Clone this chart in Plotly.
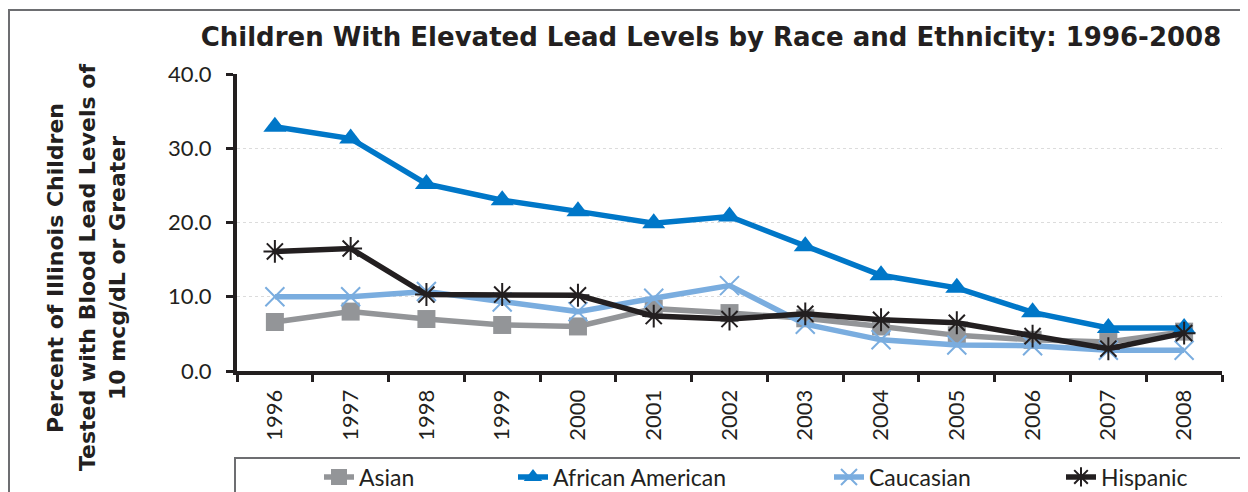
import plotly.graph_objects as go

years = ["1996", "1997", "1998", "1999", "2000", "2001", "2002",
         "2003", "2004", "2005", "2006", "2007", "2008"]
asian = [6.6, 8.0, 7.0, 6.2, 6.0, 8.4, 7.8, 7.1, 6.0, 4.8, 4.2, 3.9, 5.3]
african_american = [32.9, 31.3, 25.2, 23.0, 21.5, 19.9, 20.8, 16.8, 12.9, 11.2, 7.9, 5.8, 5.8]
caucasian = [10.0, 10.0, 10.7, 9.3, 8.0, 9.8, 11.5, 6.3, 4.2, 3.5, 3.4, 2.8, 2.8]
hispanic = [16.1, 16.5, 10.3, 10.3, 10.2, 7.4, 7.0, 7.7, 6.9, 6.5, 4.7, 3.0, 5.1]
y_ticks = [0, 10, 20, 30, 40]
y_tick_text = ["0.0", "10.0", "20.0", "30.0", "40.0"]
y_title_lines = ["Percent of Illinois Children", "Tested with Blood Lead Levels of",
                 "10 mcg/dL or Greater"]

FONT = "Lato"
BOLD = "DejaVu Sans"
INK = "#231f20"

# figure geometry (page has an 8px body margin)
W, H = 1240, 484
L, R, T, B = 229, 26, 66, 121
PW, PH = W - L - R, H - T - B


def px(fx):
    return (fx - L) / PW


def py(fy):
    return (H - B - fy) / PH


fig = go.Figure()

series = [
    ("Asian", asian, "#939598", dict(symbol="square", size=18, color="#939598"), "legend"),
    ("African American", african_american, "#0077c8",
     dict(symbol="triangle-up", size=20, color="#0077c8"), "legend2"),
    ("Caucasian", caucasian, "#7aaddf",
     dict(symbol="x-thin-open", size=19, color="#7aaddf", line=dict(color="#7aaddf", width=2)), "legend3"),
    ("Hispanic", hispanic, INK,
     dict(symbol="asterisk-open", size=19, color=INK, line=dict(color=INK, width=2)), "legend4"),
]
for name, vals, col, mk, lg in series:
    fig.add_trace(go.Scatter(x=years, y=vals, name=name, mode="lines+markers",
                             line=dict(color=col, width=5.5), marker=mk, legend=lg))

legend_x = [311, 505, 821, 1053]
leg_common = dict(orientation="h", yref="container", y=1 - 469 / H, yanchor="middle",
                  xref="container", xanchor="left", font=dict(size=23, family=FONT, color=INK),
                  bgcolor="rgba(0,0,0,0)", borderwidth=0, itemwidth=30)
legends = {}
for i, key in enumerate(["legend", "legend2", "legend3", "legend4"]):
    legends[key] = dict(leg_common, x=legend_x[i] / W)

annotations = []
for i, (lx, txt) in enumerate(zip([47, 79, 109], y_title_lines)):
    annotations.append(dict(text="<b>" + txt + "</b>", xref="paper", yref="paper",
                            x=px(lx), y=py(260), textangle=-90, showarrow=False,
                            font=dict(size=22, family=BOLD, color=INK),
                            xanchor="center", yanchor="middle"))

fig.update_layout(
    width=W, height=H,
    margin=dict(l=L, r=R, t=T, b=B, autoexpand=False),
    paper_bgcolor="white", plot_bgcolor="white",
    font=dict(family=FONT, color=INK, size=20),
    title=dict(text="<b>Children With Elevated Lead Levels by Race and Ethnicity: 1996-2008</b>",
               x=703 / W, xanchor="center", y=1 - 29 / H, yanchor="middle",
               font=dict(size=26, family=BOLD, color=INK)),
    showlegend=True,
    **legends,
    xaxis=dict(type="category", range=[-0.5, len(years) - 0.5],
               showline=True, linecolor=INK, linewidth=4,
               ticks="outside", tickson="boundaries", ticklen=7, tickwidth=3,
               tickcolor=INK, tickangle=-90, showgrid=False, automargin=False,
               ticklabelstandoff=6,
               tickfont=dict(size=22, family=FONT, color=INK)),
    yaxis=dict(range=[0, 40], tickvals=y_ticks, ticktext=y_tick_text,
               showline=True, linecolor=INK, linewidth=4, automargin=False,
               ticks="outside", ticklen=7, tickwidth=3, tickcolor=INK,
               ticklabelstandoff=10,
               showgrid=True, gridcolor="#dcdcdc", griddash="dot", gridwidth=1,
               zeroline=False, tickfont=dict(size=22, family=FONT, color=INK)),
    shapes=[
        dict(type="rect", xref="paper", yref="paper", x0=px(1), x1=px(W + 20), y0=py(2), y1=py(H + 20),
             line=dict(color="#6d6e71", width=2), fillcolor="rgba(0,0,0,0)", layer="below"),
        dict(type="rect", xref="paper", yref="paper", x0=px(227), x1=px(1236), y0=py(450), y1=py(H + 20),
             line=dict(color="#6d6e71", width=2), fillcolor="rgba(0,0,0,0)", layer="below"),
    ],
    annotations=annotations,
)

fig.write_html("out.html")
